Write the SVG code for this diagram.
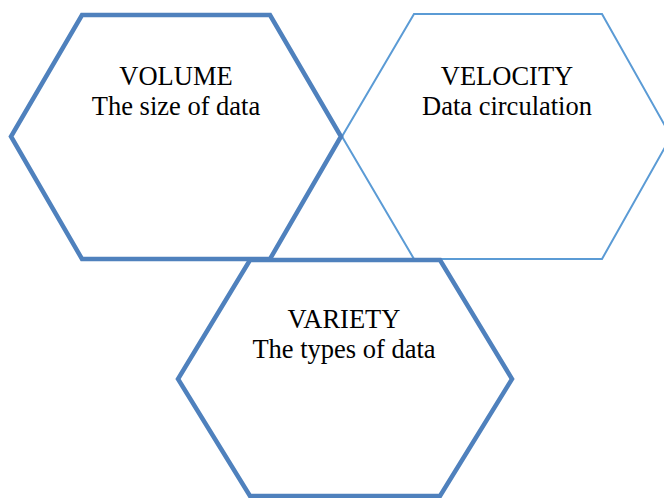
<svg xmlns="http://www.w3.org/2000/svg" width="664" height="498" viewBox="0 0 664 498">
<style>
.thick{fill:none;stroke:#4F81BD;stroke-width:4.5;stroke-linejoin:miter}
.thin{fill:none;stroke:#5B9BD5;stroke-width:2;stroke-linejoin:miter}
text{font-family:"Liberation Serif","Times New Roman",serif;font-size:26.5px;fill:#000;text-anchor:middle}
</style>
<rect width="664" height="498" fill="#fff"/>
<g id="velocity">
<polygon class="thin" points="414,14 602,14 671,136.5 602,259 414,259 342,136.5"/>
<text x="507" y="85">VELOCITY</text>
<text x="507" y="115">Data circulation</text>
</g>
<g id="volume">
<polygon class="thick" points="82,15 270,15 341,136.5 270,259 82,259 11,136.5"/>
<text x="176" y="85">VOLUME</text>
<text x="176" y="115">The size of data</text>
</g>
<g id="variety">
<polygon class="thick" points="250,260 440,260 512,379 440,496 250,496 178,379"/>
<text x="344" y="328">VARIETY</text>
<text x="344" y="358">The types of data</text>
</g>
<g id="connectors"></g>
</svg>
